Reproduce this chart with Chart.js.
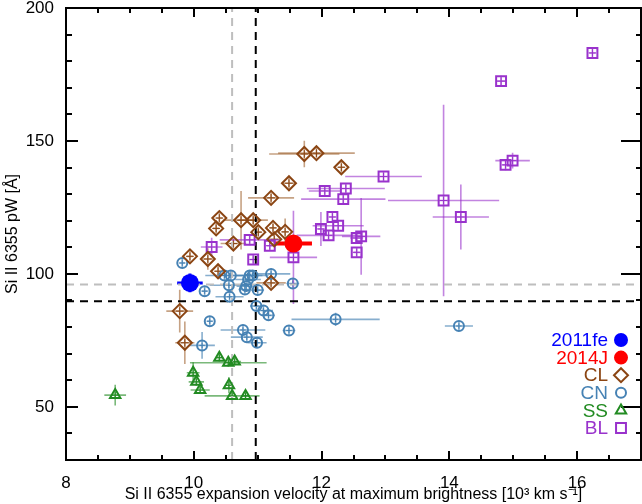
<!DOCTYPE html>
<html>
<head>
<meta charset="utf-8">
<script src="https://cdn.jsdelivr.net/npm/chart.js@4.4.1/dist/chart.umd.min.js"></script>
<style>
  html, body { margin: 0; padding: 0; background: #fff; }
  #wrap { width: 642px; height: 504px; }
</style>
</head>
<body>
<div id="wrap"><canvas id="siChart" width="642" height="504"></canvas></div>
<script>
// ============================
// Data
// ============================
const xTicks = [8, 10, 12, 14, 16];
const yTicks = [50, 100, 150, 200];

// SN 2011fe and 2014J
const feX = [9.94], feY = [96.6], feXErr = [0.2], feYErr = [3.5];
const jX = [11.56], jY = [111.4], jXErr = [0.29], jYErr = [3];

// Core normal (CN)
const cnX = [9.82, 10.17, 10.48, 10.58, 10.55, 10.56, 10.875, 10.92, 10.85, 10.82, 10.80, 11.00, 11.21,
             10.98, 11.09, 11.17, 10.25, 10.77, 10.83, 10.99, 10.13, 11.49, 12.22, 11.55, 14.15];
const cnY = [104.1, 93.5, 99.4, 99.4, 95.7, 91.4, 99.4, 99.4, 97.9, 95.4, 94.1, 93.9, 100.0,
             87.9, 86.2, 84.4, 82.2, 78.9, 76.2, 74.1, 73.1, 78.7, 82.9, 96.4, 80.4];
const cnXErr = [0.05, 0.05, 0.3, 0.1, 0.3, 0.22, 0.2, 0.25, 0.2, 0.15, 0.1, 0.1, 0.3,
                0.1, 0.15, 0.1, 0.05, 0.35, 0.25, 0.15, 0.2, 0.1, 0.69, 0.1, 0.22];
const cnYErr = [2, 2, 2, 2, 2, 2, 2, 2, 2, 2, 2, 2, 2,
                2, 2, 2, 2, 2, 2, 2, 5, 2, 2.5, 2, 1.5];

// Cool (CL)
const clX = [9.78, 9.86, 9.94, 10.22, 10.35, 10.40, 10.38, 10.62, 10.74, 10.93, 11.01, 11.24, 11.43,
             11.21, 11.49, 11.73, 11.92, 12.31, 11.21, 11.26];
const clY = [86.0, 74.1, 106.6, 105.6, 117.1, 121.0, 101.0, 111.4, 120.2, 120.2, 115.7, 117.3, 115.8,
             128.6, 134.1, 145.1, 145.4, 140.1, 96.6, 113.0];
const clXErr = [0.21, 0.15, 0.05, 0.08, 0.05, 0.05, 0.05, 0.2, 0.27, 0.23, 0.05, 0.05, 0.05,
                0.36, 0.1, 0.55, 0.6, 0.05, 0.23, 0.1];
const clYErr = [8, 8, 2, 4, 2, 2, 2, 2, 11, 2, 2, 2, 5,
                2, 2, 5, 2, 2, 2, 2];

// Shallow silicon (SS)
const ssX = [8.77, 10.40, 10.54, 10.64, 9.99, 10.04, 10.10, 10.55, 10.60, 10.81];
const ssY = [54.4, 68.5, 66.6, 67.0, 62.8, 59.4, 56.3, 58.1, 54.1, 54.1];
const ssXErr = [0.17, 0.05, 0.6, 0.1, 0.1, 0.12, 0.15, 0.05, 0.43, 0.05];
const ssYErr = [3.9, 1.5, 1.5, 1.5, 4, 1.5, 1.5, 3, 1.5, 1.5];

// Broad line (BL)
const blX = [10.28, 10.875, 10.93, 11.19, 11.56, 11.99, 12.05, 12.11, 12.17, 12.26, 12.34, 12.38,
             12.55, 12.62, 12.55, 12.97, 13.91, 14.18, 14.81, 14.88, 14.99, 16.24];
const blY = [110.1, 112.8, 105.4, 110.6, 106.2, 116.9, 131.2, 114.5, 121.4, 118.1, 128.1, 132.1,
             113.5, 114.1, 108.1, 136.6, 127.6, 121.4, 172.5, 141.0, 142.6, 183.1];
const blXErr = [0.17, 0.47, 0.05, 0.05, 0.37, 0.05, 0.25, 0.5, 0.05, 0.4, 0.66, 0.61,
                0.1, 0.3, 0.05, 0.6, 0.87, 0.44, 0.08, 0.05, 0.27, 0.05];
const blYErr = [3.5, 2, 2, 2, 17.5, 6.4, 2, 2, 2, 2, 2, 2,
                2, 14.4, 2, 2, 36, 12.2, 2, 2, 3, 1.5];

// dashed reference lines
const refGrayX = 10.60, refBlackX = 10.97;
const refGrayY = 96.0, refBlackY = 89.7;

const xMin = 8, xMax = 17, yMin = 30, yMax = 200;

// ============================
// Helpers
// ============================
function pts(xs, ys) {
    return xs.map((x, i) => ({ x: x, y: ys[i] }));
}

function refLine(x0, y0, x1, y1, color) {
    return {
        data: [{ x: x0, y: y0 }, { x: x1, y: y1 }],
        showLine: true,
        borderColor: color,
        borderWidth: 2,
        borderDash: [8, 6],
        pointRadius: 0,
        order: 20
    };
}

function series(label, xs, ys, xe, ye, color, barColor, style, radius, extra) {
    return Object.assign({
        label: label,
        data: pts(xs, ys),
        xErr: xe,
        yErr: ye,
        barColor: barColor,
        pointStyle: style,
        pointRadius: radius,
        borderColor: color,
        backgroundColor: "rgba(0,0,0,0)",
        borderWidth: 2,
        cross: true,
        order: 5
    }, extra || {});
}

// ============================
// Plugin: error bars, frame, ticks, legend
// ============================
const plotDecor = {
    id: "plotDecor",
    beforeDatasetsDraw(chart) {
        const ctx = chart.ctx;
        const xs = chart.scales.x, ys = chart.scales.y;
        ctx.save();
        chart.data.datasets.forEach(ds => {
            if (!ds.xErr) return;
            ctx.strokeStyle = ds.barColor;
            ctx.lineWidth = ds.barWidth || 1.6;
            ds.data.forEach((p, i) => {
                const px = xs.getPixelForValue(p.x), py = ys.getPixelForValue(p.y);
                ctx.beginPath();
                ctx.moveTo(xs.getPixelForValue(p.x - ds.xErr[i]), py);
                ctx.lineTo(xs.getPixelForValue(p.x + ds.xErr[i]), py);
                ctx.moveTo(px, ys.getPixelForValue(p.y - ds.yErr[i]));
                ctx.lineTo(px, ys.getPixelForValue(p.y + ds.yErr[i]));
                ctx.stroke();
            });
            if (ds.cross) {
                ctx.strokeStyle = ds.borderColor;
                ctx.lineWidth = 1;
                const r = ds.pointRadius * 0.55;
                ds.data.forEach(p => {
                    const px = xs.getPixelForValue(p.x), py = ys.getPixelForValue(p.y);
                    ctx.beginPath();
                    ctx.moveTo(px - r, py); ctx.lineTo(px + r, py);
                    ctx.moveTo(px, py - r); ctx.lineTo(px, py + r);
                    ctx.stroke();
                });
            }
        });
        ctx.restore();
    },
    afterDraw(chart) {
        const ctx = chart.ctx;
        const a = chart.chartArea;
        const xs = chart.scales.x, ys = chart.scales.y;
        ctx.save();
        ctx.strokeStyle = "#000";
        ctx.lineWidth = 2;
        ctx.strokeRect(a.left, a.top, a.right - a.left, a.bottom - a.top);

        // x ticks (bottom and top)
        ctx.beginPath();
        for (let v = xMin + 0.5; v < xMax; v += 0.5) {
            const px = Math.round(xs.getPixelForValue(v));
            const len = xTicks.includes(v) ? 9 : 5;
            ctx.moveTo(px, a.bottom); ctx.lineTo(px, a.bottom - len);
            ctx.moveTo(px, a.top); ctx.lineTo(px, a.top + len);
        }
        // y ticks (left and right)
        for (let v = yMin + 10; v < yMax; v += 10) {
            const py = Math.round(ys.getPixelForValue(v));
            const major = yTicks.includes(v);
            ctx.moveTo(a.left, py); ctx.lineTo(a.left + (major ? 12 : 6), py);
            ctx.moveTo(a.right, py); ctx.lineTo(a.right - (major ? 20 : 5), py);
        }
        ctx.stroke();

        // legend
        const rows = [
            { text: "2011fe", color: "#0000FF", style: "circle", fill: true, r: 6 },
            { text: "2014J", color: "#FF0000", style: "circle", fill: true, r: 6 },
            { text: "CL", color: "#8B4513", style: "rectRot", fill: false, r: 7 },
            { text: "CN", color: "#4682B4", style: "circle", fill: false, r: 5 },
            { text: "SS", color: "#228B22", style: "triangle", fill: false, r: 6 },
            { text: "BL", color: "#9932CC", style: "rect", fill: false, r: 7 }
        ];
        ctx.font = "19px 'Liberation Sans', Arial, sans-serif";
        ctx.textAlign = "right";
        ctx.textBaseline = "middle";
        rows.forEach((row, i) => {
            const y = 340 + i * 17.6;
            ctx.fillStyle = row.color;
            ctx.fillText(row.text, 608, y + 1);
            ctx.strokeStyle = row.color;
            ctx.fillStyle = row.fill ? row.color : "rgba(0,0,0,0)";
            Chart.helpers.drawPoint(ctx, {
                pointStyle: row.style, radius: row.r, rotation: 0, borderWidth: 2
            }, 621, y);
        });
        ctx.restore();
    }
};

// ============================
// Chart
// ============================
const font = { family: "'Liberation Sans', Arial, sans-serif", size: 17 };

const chart = new Chart(document.getElementById("siChart"), {
    type: "scatter",
    data: {
        datasets: [
            series("2011fe", feX, feY, feXErr, feYErr, "#0000FF", "#0000FF", "circle", 9,
                { backgroundColor: "#0000FF", borderWidth: 0, cross: false, barWidth: 3, order: 0 }),
            series("2014J", jX, jY, jXErr, jYErr, "#FF0000", "#FF0000", "circle", 9,
                { backgroundColor: "#FF0000", borderWidth: 0, cross: false, barWidth: 4, order: 0 }),
            series("CL", clX, clY, clXErr, clYErr, "#8B4513", "rgba(160,100,50,0.6)", "rectRot", 7),
            series("CN", cnX, cnY, cnXErr, cnYErr, "#4682B4", "rgba(70,130,180,0.65)", "circle", 5),
            series("SS", ssX, ssY, ssXErr, ssYErr, "#228B22", "rgba(34,139,34,0.6)", "triangle", 6),
            series("BL", blX, blY, blXErr, blYErr, "#9932CC", "rgba(153,50,204,0.6)", "rect", 7),
            refLine(refGrayX, yMin, refGrayX, yMax, "#BEBEBE"),
            refLine(xMin, refGrayY, xMax, refGrayY, "#BEBEBE"),
            refLine(refBlackX, yMin, refBlackX, yMax, "#000000"),
            refLine(xMin, refBlackY, xMax, refBlackY, "#000000")
        ]
    },
    options: {
        responsive: false,
        animation: false,
        devicePixelRatio: 1,
        layout: { autoPadding: false, padding: { left: 0, right: 1, top: 8, bottom: 0 } },
        plugins: { legend: { display: false }, tooltip: { enabled: false } },
        scales: {
            x: {
                type: "linear",
                min: xMin, max: xMax,
                afterBuildTicks: s => { s.ticks = xTicks.map(v => ({ value: v })); },
                afterFit: s => { s.height = 44; s.paddingLeft = 0; s.paddingRight = 0; },
                grid: { display: false },
                border: { display: false },
                ticks: { color: "#000", font: font, padding: 5, maxRotation: 0 },
                title: {
                    display: true,
                    text: "Si II 6355 expansion velocity at maximum brightness [10\u00B3 km s\u207B\u00B9]",
                    color: "#000",
                    font: { family: font.family, size: 16 },
                    padding: { top: 0, bottom: 0 }
                }
            },
            y: {
                type: "linear",
                min: yMin, max: yMax,
                afterBuildTicks: s => { s.ticks = yTicks.map(v => ({ value: v })); },
                afterFit: s => { s.width = 66; s.paddingTop = 0; s.paddingBottom = 0; },
                grid: { display: false },
                border: { display: false },
                ticks: { color: "#000", font: font, padding: 4 },
                title: {
                    display: true,
                    text: "Si II 6355 pW [\u00C5]",
                    color: "#000",
                    font: { family: font.family, size: 16 },
                    padding: { top: 3, bottom: 0 }
                }
            }
        }
    },
    plugins: [plotDecor]
});
</script>
</body>
</html>
